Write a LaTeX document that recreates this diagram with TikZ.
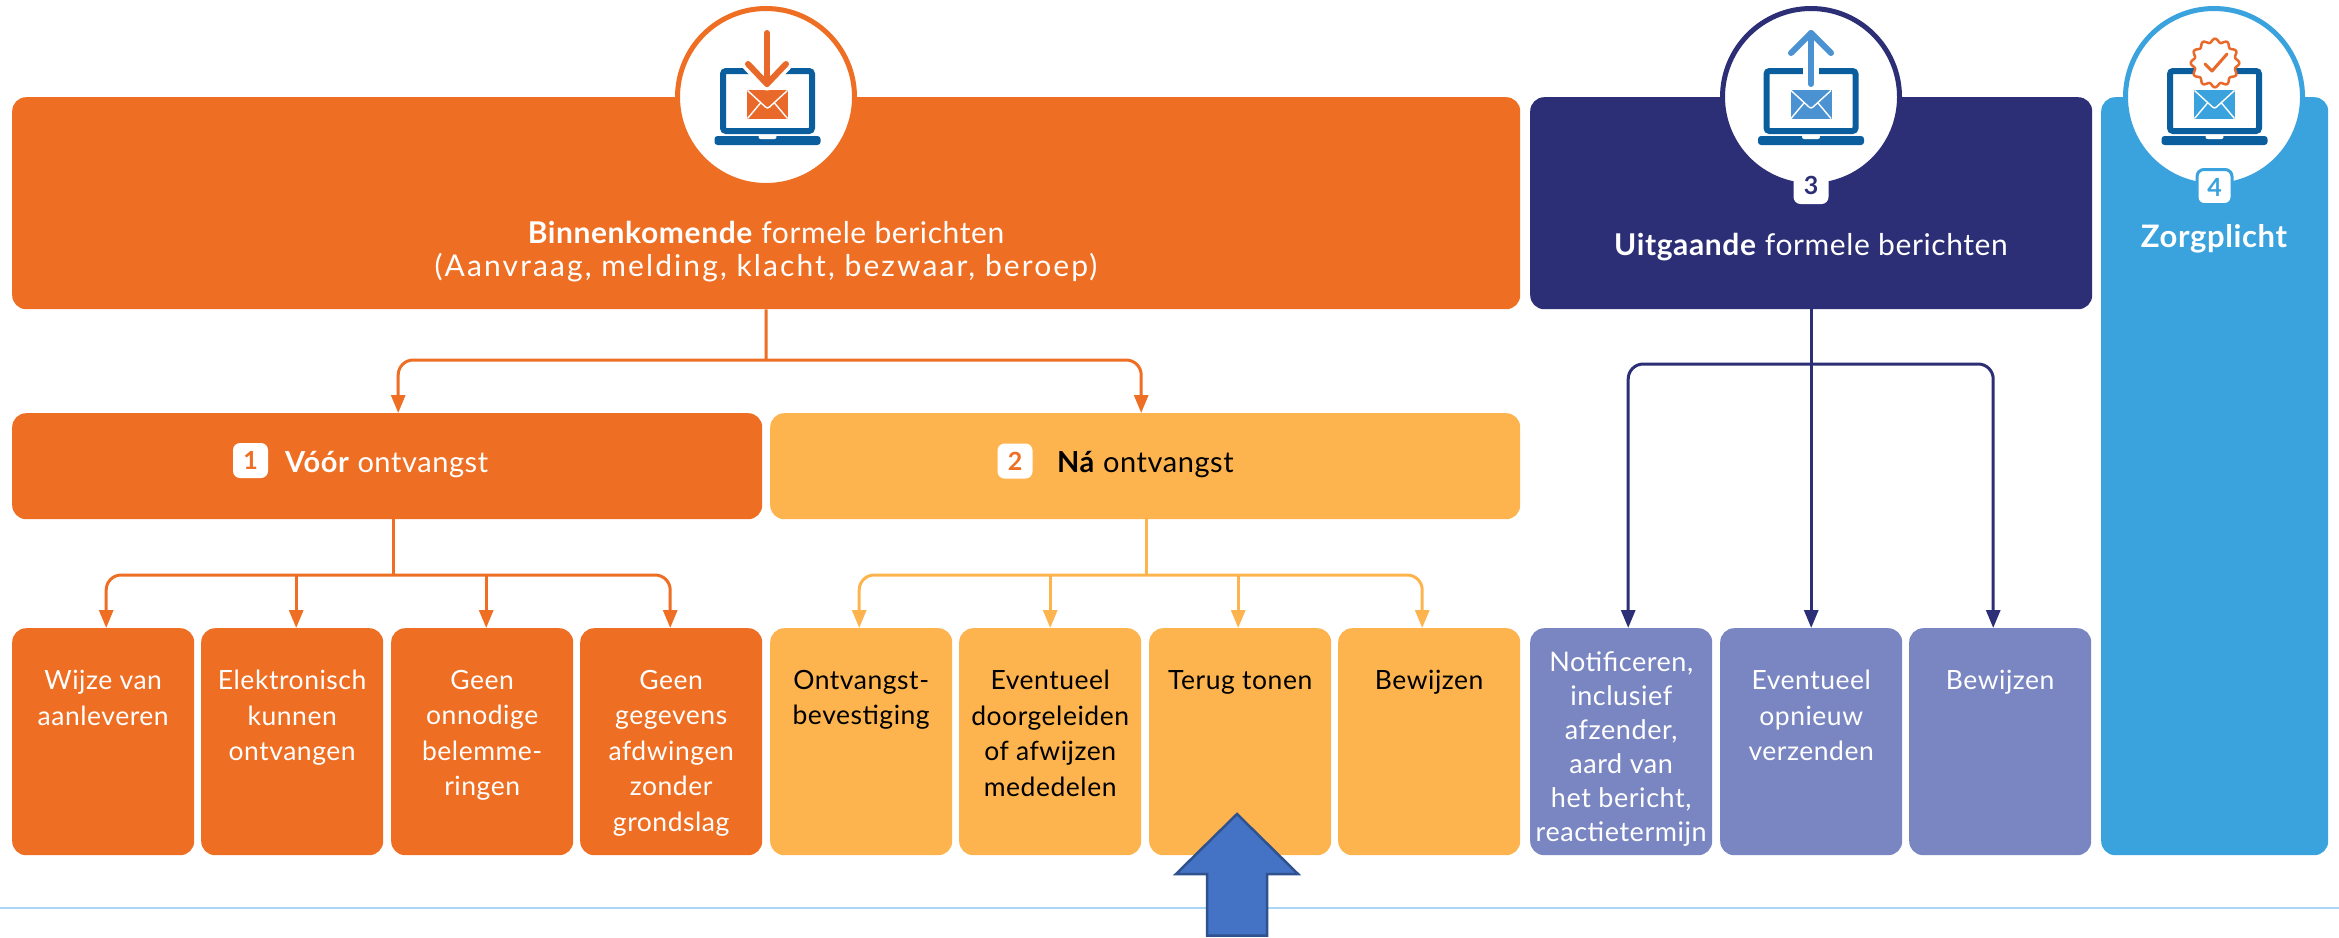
\documentclass[tikz,border=0pt]{standalone}
\usepackage{fontspec}
\setmainfont{Lato}[LetterSpace=2]
\usetikzlibrary{arrows.meta}
\definecolor{cOr}{HTML}{EE6F24}
\definecolor{cYe}{HTML}{FDB44E}
\definecolor{cDk}{HTML}{2C2E76}
\definecolor{cPu}{HTML}{7A86C2}
\definecolor{cLb}{HTML}{3AA3DD}
\definecolor{cLap}{HTML}{0B5E9E}
\definecolor{cIco}{HTML}{4A92D1}
\definecolor{cEnvO}{HTML}{E8692A}
\definecolor{cLine}{HTML}{A9D6F5}
\definecolor{cArr}{HTML}{4472C4}
\definecolor{cArrD}{HTML}{2F528F}
\tikzset{
  x=1pt,y=-1pt,
  band/.style={rounded corners=14pt,inner sep=0pt,anchor=north west,minimum height=#1},
  bigband/.style={band=212pt},
  midband/.style={band=106pt},
  cell/.style={band=227pt,minimum width=182pt},
  celltxt/.style={anchor=north,align=center,inner sep=0pt,text=white,font=\fontsize{26.5}{35.5}\selectfont},
  headtxt/.style={align=center,inner sep=0pt,font=\fontsize{30}{33}\selectfont},
  subtxt/.style={headtxt,font=\fontsize{29}{33}\selectfont},
  conn/.style={line width=3pt},
  connar/.style={conn,rounded corners=15pt,-{Triangle[length=18pt,width=14pt]}},
  connmid/.style={conn,-{Triangle[length=18pt,width=14pt]}},
  ring/.style={circle,draw=#1,fill=white,line width=5pt,minimum size=177pt,inner sep=0pt},
  numbadge/.style={rounded corners=7pt,fill=white,minimum size=35pt,inner sep=0pt,font=\fontsize{25}{25}\selectfont\bfseries},
}
\newcommand{\laptopicon}[2]{%
  \begin{scope}[xshift=#1pt]
    \draw[cLap,line width=6pt,rounded corners=3pt,fill=white] (-44.5,71) rectangle (44.5,131);
    \fill[cLap,rounded corners=3pt] (-53,136) rectangle (53,145);
    \fill[white,rounded corners=2pt] (-9,135) rectangle (9,139);
    \fill[#2] (-20.5,90) rectangle (20.5,119);
    \draw[white,line width=1.4pt,line join=round] (-20,90.5) -- (-2,107) -- (0,108) -- (2,107) -- (20,90.5);
    \draw[white,line width=1.4pt] (-20,118.5) -- (-7,103) (20,118.5) -- (7,103);
  \end{scope}}
\begin{document}
\begin{tikzpicture}
\useasboundingbox (0,0) rectangle (2339,937);
% bottom line
\draw[cLine,line width=1.5pt] (0,908) -- (2339,908);
% bands
\node[bigband,fill=cOr,minimum width=1508pt] (bin) at (12,97) {};
\node[bigband,fill=cDk,minimum width=562pt] (uit) at (1530,97) {};
\node[band=758pt,fill=cLb,minimum width=227pt] (zorg) at (2101,97) {};
\node[midband,fill=cOr,minimum width=750pt] (voor) at (12,413) {};
\node[midband,fill=cYe,minimum width=750pt] (na) at (770,413) {};
% cells
\node[cell,fill=cOr] (o1) at (12,628) {};
\node[cell,fill=cOr] (o2) at (201,628) {};
\node[cell,fill=cOr] (o3) at (391,628) {};
\node[cell,fill=cOr] (o4) at (580,628) {};
\node[cell,fill=cYe] (y1) at (770,628) {};
\node[cell,fill=cYe] (y2) at (959,628) {};
\node[cell,fill=cYe] (y3) at (1149,628) {};
\node[cell,fill=cYe] (y4) at (1338,628) {};
\node[cell,fill=cPu] (p1) at (1530,628) {};
\node[cell,fill=cPu] (p2) at (1720,628) {};
\node[cell,fill=cPu] (p3) at (1909,628) {};
% connectors
\coordinate (busA) at (766,360);
\draw[conn,cOr] (bin.south) -- (busA);
\draw[connar,cOr] (busA) -| ([xshift=11pt]voor.north);
\draw[connar,cOr] (busA) -| ([xshift=-4pt]na.north);
\coordinate (busB) at (393,575);
\draw[conn,cOr] (voor.south -| busB) -- (busB);
\draw[connar,cOr] (busB) -| ([xshift=3pt]o1.north);
\draw[connmid,cOr] ([xshift=4pt]o2.north |- busB) -- ([xshift=4pt]o2.north);
\draw[connmid,cOr] ([xshift=4pt]o3.north |- busB) -- ([xshift=4pt]o3.north);
\draw[connar,cOr] (busB) -| ([xshift=-1pt]o4.north);
\coordinate (busC) at (1146,575);
\draw[conn,cYe] (na.south -| busC) -- (busC);
\draw[connar,cYe] (busC) -| ([xshift=-2pt]y1.north);
\draw[connmid,cYe] (y2.north |- busC) -- (y2.north);
\draw[connmid,cYe] ([xshift=-2pt]y3.north |- busC) -- ([xshift=-2pt]y3.north);
\draw[connar,cYe] (busC) -| ([xshift=-7pt]y4.north);
\coordinate (busD) at (1811,364);
\draw[connmid,cDk] (uit.south) -- (p2.north);
\draw[connar,cDk] (busD) -| ([xshift=7pt]p1.north);
\draw[connar,cDk] (busD) -| ([xshift=-7pt]p3.north);
% head texts
\node[headtxt,text=white] (t1) at (766,252) {\textbf{Binnenkomende} formele berichten\\{\addfontfeature{LetterSpace=7}(Aanvraag, melding, klacht, bezwaar, beroep)}};
\node[headtxt,text=white] (t3) at (1811,247) {\textbf{Uitgaande} formele berichten};
\node[headtxt,text=white,font=\fontsize{31}{33}\selectfont\bfseries] (t4) at (2214,239) {Zorgplicht};
\node[numbadge,text=cOr] (b1) at (250.5,460.5) {1};
\node[subtxt,text=white,anchor=west] (t1b) at (285,465) {\textbf{Vóór} ontvangst};
\node[numbadge,text=cOr] (b2) at (1015,461) {2};
\node[subtxt,text=black,anchor=west] (t2b) at (1057,465) {\textbf{Ná} ontvangst};
% cell texts
\node[celltxt] (to1) at ([yshift=-42pt]o1.north) {Wijze van\\aanleveren};
\node[celltxt] (to2) at ([yshift=-42pt]o2.north) {Elektronisch\\kunnen\\ontvangen};
\node[celltxt] (to3) at ([yshift=-42pt]o3.north) {Geen\\onnodige\\belemme-\\ringen};
\node[celltxt] (to4) at ([yshift=-42pt]o4.north) {Geen\\gegevens\\afdwingen\\zonder\\grondslag};
\node[celltxt,text=black] (ty1) at ([yshift=-42pt]y1.north) {Ontvangst-\\bevestiging};
\node[celltxt,text=black] (ty2) at ([yshift=-42pt]y2.north) {Eventueel\\doorgeleiden\\of afwijzen\\mededelen};
\node[celltxt,text=black] (ty3) at ([yshift=-42pt]y3.north) {Terug tonen};
\node[celltxt,text=black] (ty4) at ([yshift=-42pt]y4.north) {Bewijzen};
\node[celltxt,font=\fontsize{27}{34}\selectfont] (tp1) at ([yshift=-23pt]p1.north) {Notificeren,\\inclusief\\afzender,\\aard van\\het bericht,\\reactietermijn};
\node[celltxt] (tp2) at ([yshift=-42pt]p2.north) {Eventueel\\opnieuw\\verzenden};
\node[celltxt] (tp3) at ([yshift=-42pt]p3.north) {Bewijzen};
% icon 1
\node[ring=cOr] (c1) at (766,97) {};
\laptopicon{767.5}{cEnvO}
\fill[white] (748,62) -- (786,62) -- (767,85) -- cycle;
\draw[white,line width=13pt,line cap=round,line join=round] (748,64) -- (767,84) -- (786,64);
\draw[cEnvO,line width=6pt,line cap=round] (767,33) -- (767,84);
\draw[cEnvO,line width=6pt,line cap=round,line join=round] (748,64) -- (767,84) -- (786,64);
% icon 3
\node[ring=cDk] (c3) at (1811,97) {};
\node[numbadge,minimum width=35pt,minimum height=38pt,text=cDk] (b3) at (1811,185) {3};
\laptopicon{1811}{cIco}
\fill[white] (1803,62) rectangle (1819,75);
\draw[cIco,line width=6pt,line cap=round] (1811,84) -- (1811,33);
\draw[cIco,line width=6pt,line cap=round,line join=round] (1791,53) -- (1811,33) -- (1831,53);
% icon 4
\node[ring=cLb] (c4) at (2214,97) {};
\laptopicon{2214.5}{cLb}
\begin{scope}[shift={(2215,63)}]
  \draw[cEnvO,fill=white,line width=2.5pt,line join=round] plot[domain=0:360,samples=145] (\x:{22.5+1.8*cos(12*\x)}) -- cycle;
  \draw[cEnvO,line width=3pt,line cap=round,line join=round] (-10,1) -- (-3,8) -- (12,-9);
\end{scope}
\node[numbadge,draw=cLb,line width=3pt,text=cLb,minimum size=35pt] (b4) at (2214.5,187) {4};
% block arrow
\draw[fill=cArr,draw=cArrD,line width=2.5pt,miter limit=4] (1237,814) -- (1298,874) -- (1267,874) -- (1267,935.5) -- (1207,935.5) -- (1207,874) -- (1176,874) -- cycle;
\end{tikzpicture}
\end{document}
